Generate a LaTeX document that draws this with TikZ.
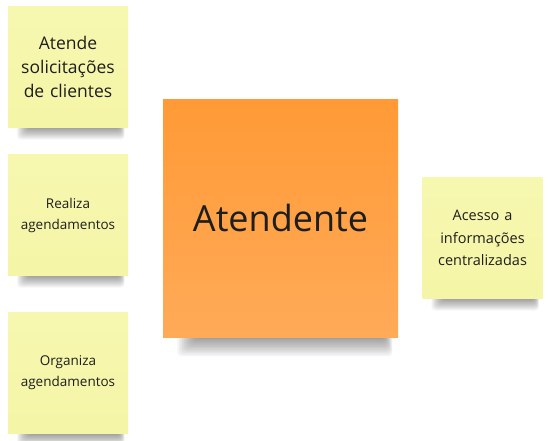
\documentclass[tikz,border=0pt]{standalone}
\usepackage{fontspec}
\setmainfont{Open Sans}
\usetikzlibrary{calc,backgrounds}
\definecolor{stickyY}{HTML}{F7F8B0}
\definecolor{stickyYd}{HTML}{F4F5A6}
\definecolor{orangeT}{HTML}{FF9A36}
\definecolor{orangeB}{HTML}{FFAA58}
\definecolor{inkc}{HTML}{1E1E1E}
\begin{document}
\begin{tikzpicture}[x=1pt,y=-1pt,
  note/.style={draw=none, inner sep=4pt, align=center, text=inkc},
  ynote/.style={note, top color=stickyY, bottom color=stickyYd, minimum width=120pt, minimum height=121pt, text width=112pt},
  onote/.style={note, top color=orangeT, bottom color=orangeB, minimum width=235pt, minimum height=238pt, text width=225pt},
  shadowlayer/.style={fill=black, opacity=0.035}
]
\useasboundingbox (0,0) rectangle (548,440);
\node[ynote, font=\fontsize{17.5}{24}\selectfont] (a1) at (68,67) {Atende\\solicitações\\de clientes};
\node[ynote, font=\fontsize{13.5}{21}\selectfont] (a2) at (68,215) {Realiza\\agendamentos};
\node[ynote, font=\fontsize{13.5}{21}\selectfont] (a3) at (68,373) {Organiza\\agendamentos};
\node[onote, font=\fontsize{36}{44}\selectfont] (c) at (280.5,218) {Atendente};
\node[ynote, font=\fontsize{14.5}{22.5}\selectfont] (r) at (482.5,238) {Acesso a\\informações\\centralizadas};
\begin{scope}[on background layer]
\fill[white] (0,0) rectangle (548,440);
\foreach \n/\s in {a1/1, a2/1, a3/1, r/1, c/1.6}{
  \foreach \i in {0,...,11}{
    \fill[shadowlayer, rounded corners=4pt]
      ($(\n.south west)+({(20-1.0*\i)*\s},-12)$) rectangle
      ($(\n.south east)+({(-8+0.4*\i)*\s},{(1+1.0*\i)*\s})$);
  }
}
\end{scope}
\end{tikzpicture}
\end{document}
